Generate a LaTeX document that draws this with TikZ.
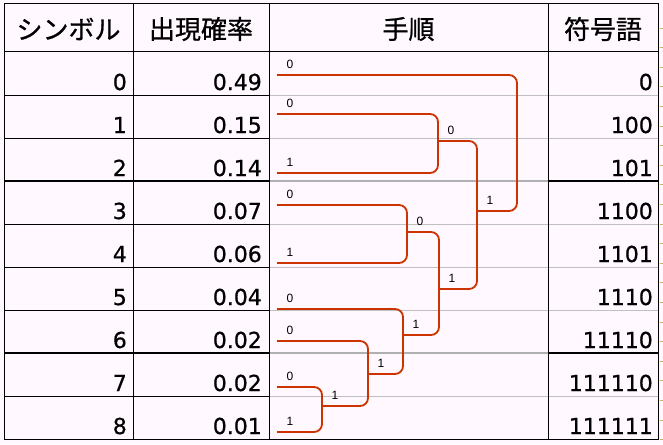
\documentclass[tikz,border=0pt]{standalone}
\usepackage{fontspec}
\setmainfont{DejaVu Sans}
\newfontfamily\jpfont[FakeBold=0.8]{Noto Sans CJK JP}
\newfontfamily\numfont[FakeBold=0.6]{DejaVu Sans}
\newfontfamily\bitfont{Liberation Sans}
\usepackage{xcolor}
\definecolor{treered}{HTML}{CC3300}
\definecolor{cellbg}{HTML}{FFF8FF}
\definecolor{gridgray}{HTML}{C0C0C0}
\definecolor{darkgray}{HTML}{B0B0B0}
\definecolor{tickolive}{HTML}{C8B450}
\usetikzlibrary{calc}

\begin{document}
\begin{tikzpicture}[
  x=1pt, y=-1pt,
  hdr/.style={font=\jpfont\fontsize{26}{26}\selectfont, inner sep=0pt},
  num/.style={font=\numfont\fontsize{22}{22}\selectfont, anchor=base east, inner sep=0pt},
  rule/.style={line width=1pt, black},
  thickrule/.style={line width=2pt, black},
  soft/.style={line width=1pt, gridgray},
  softthick/.style={line width=2pt, darkgray},
  branch/.style={line width=1.8pt, treered, rounded corners=8pt},
  bit/.style={font=\bitfont\fontsize{12}{12}\selectfont, inner sep=0pt},
  tick/.style={line width=0.8pt, tickolive},
]
\useasboundingbox (0,0) rectangle (663,444);
\fill[cellbg] (0,0) rectangle (663,444);

% ---------- row rules (black left, gray in the procedure column)
\foreach \k in {1,...,8} {
  \pgfmathsetmacro{\ry}{52+43*\k}
  \draw[rule] (4,\ry) -- (269,\ry);
  \draw[soft] (269,\ry) -- (658,\ry);
}
\foreach \ry in {181,353} {
  \draw[thickrule] (4,\ry) -- (269,\ry);
  \draw[softthick] (269,\ry) -- (548,\ry);
  \draw[thickrule] (548,\ry) -- (658,\ry);
}

% ---------- frame and columns
\draw[rule] (4,4) rectangle (658,439);
\draw[rule] (4,52) -- (658,52);
\foreach \cx in {133,269,548}
  \draw[rule] (\cx,4) -- (\cx,439);

% ---------- header
\node[hdr] (h-sym)  at (68.5,29) {シンボル};
\node[hdr] (h-prob) at (201,29)  {出現確率};
\node[hdr] (h-proc) at (408.5,29) {手順};
\node[hdr] (h-code) at (603,29)  {符号語};

% ---------- table cells
\foreach \k/\p/\c in {0/0.49/0,1/0.15/100,2/0.14/101,3/0.07/1100,4/0.06/1101,
                      5/0.04/1110,6/0.02/11110,7/0.02/111110,8/0.01/111111} {
  \pgfmathsetmacro{\by}{52+43*(\k+1)-5}
  \node[num] (sym\k)  at (127,\by) {\k};
  \node[num] (prob\k) at (262,\by) {\p};
  \node[num] (code\k) at (653,\by) {\c};
}

% ---------- the tree
\coordinate (s0) at (277,75);
\coordinate (s1) at (277,114);
\coordinate (s2) at (277,173);
\coordinate (s3) at (277,205);
\coordinate (s4) at (277,263);
\coordinate (s5) at (277,309);
\coordinate (s6) at (277,341);
\coordinate (s7) at (277,387);
\coordinate (s8) at (277,432);
\coordinate (m78)   at (322,406);
\coordinate (m678)  at (368,374);
\coordinate (m5678) at (403,335);
\coordinate (m34)   at (407,232);
\coordinate (m38)   at (439,289);
\coordinate (m12)   at (438,141);
\coordinate (m18)   at (477,211);
\coordinate (mroot) at (517,140);

\foreach \a/\b/\m in {s7/s8/m78,s6/m78/m678,s5/m678/m5678,s3/s4/m34,
                      m34/m5678/m38,s1/s2/m12,m12/m38/m18,s0/m18/mroot}
  \draw[branch] (\a) -| (\m |- \b) -- (\b);

\foreach \a/\t in {s0/0,s1/0,s2/1,s3/0,s4/1,s5/0,s6/0,s7/0,s8/1,
                   m78/1,m678/1,m5678/1,m34/0,m38/1,m12/0,m18/1}
  \node[bit] (b-\a) at ($(\a)+(13,-11)$) {\t};

% ---------- gridline ticks beyond the frame
\foreach \k in {0,...,21} {
  \pgfmathsetmacro{\ty}{28+19.6*\k}
  \draw[tick] (659.5,\ty) -- (663,\ty);
}
\end{tikzpicture}
\end{document}
